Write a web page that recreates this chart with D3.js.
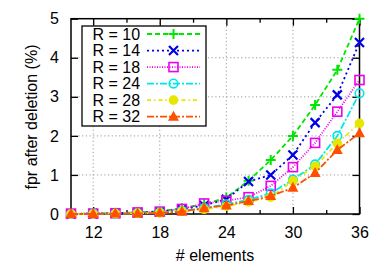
<!DOCTYPE html>
<html><head><meta charset="utf-8">
<script src="https://cdn.jsdelivr.net/npm/d3@7"></script>
<style>body{margin:0;background:#fff}text{font-family:"Liberation Sans",Arial,sans-serif}</style>
</head><body><svg id="c" width="382" height="268"></svg>
<script>
const xs = [10,12,14,16,18,20,22,24,26,28,30,32,34,36];
const r10 = [0,0.01,0.02,0.04,0.07,0.15,0.25,0.42,0.85,1.38,2.0,2.79,3.69,5.0];
const r14 = [0,0.01,0.02,0.03,0.06,0.12,0.22,0.38,0.83,1.0,1.51,2.34,3.05,4.39];
const r18 = [0.01,0.01,0.02,0.04,0.06,0.13,0.27,0.34,0.43,0.72,1.2,1.82,2.62,3.43];
const r24 = [0,0.01,0.01,0.02,0.04,0.08,0.15,0.25,0.36,0.53,0.88,1.27,2.0,3.09];
const r28 = [0,0,0.01,0.02,0.03,0.07,0.12,0.2,0.31,0.43,0.85,1.22,1.81,2.32];
const r32 = [0,0,0.01,0.01,0.03,0.06,0.15,0.22,0.33,0.46,0.67,1.05,1.64,2.07];
const seriesNames = ["R = 10","R = 14","R = 18","R = 24","R = 28","R = 32"];
const xTicks = [12,18,24,30,36];
const xMinor = [15,21,27,33];
const yTicks = [0,1,2,3,4,5];

const styles = [
  {c:"#00e600", dash:"5,3", m:"plus"},
  {c:"#0000e6", dash:"2,3", m:"x"},
  {c:"#ee00ee", dash:"1,1.5", m:"square"},
  {c:"#00e6e6", dash:"7,2,2,2", m:"circle"},
  {c:"#e6e600", dash:"4,3,1.5,3", m:"dot"},
  {c:"#ff5000", dash:"7,2,2,2", m:"tri"}
];
const data = [r10,r14,r18,r24,r28,r32];

const svg = d3.select("#c");
const L=71, R=359.5, T=18.7, B=214;
const x = d3.scaleLinear().domain([10,36]).range([L,R]);
const y = d3.scaleLinear().domain([0,5]).range([B,T]);

// grid
const g = svg.append("g");
g.selectAll(".gx").data(xTicks.filter(t=>t<36)).enter().append("line")
  .attr("x1",d=>x(d)).attr("x2",d=>x(d)).attr("y1",T).attr("y2",B)
  .attr("stroke","#999").attr("stroke-width",1).attr("stroke-dasharray","1.2,2.5");
g.selectAll(".gy").data(yTicks.filter(t=>t>0&&t<5)).enter().append("line")
  .attr("x1",L).attr("x2",R).attr("y1",d=>y(d)).attr("y2",d=>y(d))
  .attr("stroke","#999").attr("stroke-width",1).attr("stroke-dasharray","1.2,2.5");

// axes with inward ticks
const ax = svg.append("g");
const axBottom = d3.axisBottom(x).tickValues(xTicks).tickSize(-7).tickPadding(13).tickFormat(d3.format("d"));
ax.append("g").attr("transform",`translate(0,${B})`).call(axBottom);
const axTop = d3.axisTop(x).tickValues(xTicks).tickSize(-7).tickFormat("");
ax.append("g").attr("transform",`translate(0,${T})`).call(axTop);
const axBottomMinor = d3.axisBottom(x).tickValues(xMinor).tickSize(-4).tickFormat("");
ax.append("g").attr("transform",`translate(0,${B})`).call(axBottomMinor);
const axTopMinor = d3.axisTop(x).tickValues(xMinor).tickSize(-4).tickFormat("");
ax.append("g").attr("transform",`translate(0,${T})`).call(axTopMinor);
const axLeft = d3.axisLeft(y).tickValues(yTicks).tickSize(-7).tickPadding(12).tickFormat(d3.format("d"));
ax.append("g").attr("transform",`translate(${L},0)`).call(axLeft);
const axRight = d3.axisRight(y).tickValues(yTicks).tickSize(-7).tickFormat("");
ax.append("g").attr("transform",`translate(${R},0)`).call(axRight);
ax.selectAll(".domain").remove();
ax.selectAll("line").attr("stroke","#000").attr("stroke-width",1.3);
ax.selectAll("text").attr("font-size",16).attr("fill","#000").style("font-family","'Liberation Sans',Arial,sans-serif");
svg.append("rect").attr("x",L).attr("y",T).attr("width",R-L).attr("height",B-T)
  .attr("fill","none").attr("stroke","#000").attr("stroke-width",1.5);

// labels
svg.append("text").attr("x",215).attr("y",261).attr("text-anchor","middle").attr("font-size",16).text("# elements");
svg.append("text").attr("transform","translate(37,117) rotate(-90)").attr("text-anchor","middle").attr("font-size",16).text("fpr after deletion (%)");

function marker(sel, type, c){
  if(type==="plus"){
    sel.append("path").attr("d","M-5,0H5M0,-5V5").attr("stroke",c).attr("stroke-width",2).attr("fill","none");
  } else if(type==="x"){
    sel.append("path").attr("d","M-4.5,-4.5L4.5,4.5M-4.5,4.5L4.5,-4.5").attr("stroke",c).attr("stroke-width",2.2).attr("fill","none");
  } else if(type==="square"){
    sel.append("rect").attr("x",-4.5).attr("y",-4.5).attr("width",9).attr("height",9).attr("stroke",c).attr("stroke-width",1.6).attr("fill","none");
  } else if(type==="circle"){
    sel.append("circle").attr("r",4.3).attr("stroke",c).attr("stroke-width",1.6).attr("fill","none");
  } else if(type==="dot"){
    sel.append("circle").attr("r",4.8).attr("fill",c);
  } else if(type==="tri"){
    sel.append("path").attr("d","M0,-6L5.5,4L-5.5,4Z").attr("fill",c);
  }
}

const line = d3.line().x((d,i)=>x(xs[i])).y(d=>y(d));
data.forEach((vals,k)=>{
  const s = styles[k];
  const sg = svg.append("g");
  sg.append("path").datum(vals).attr("d",line).attr("fill","none")
    .attr("stroke",s.c).attr("stroke-width",1.8).attr("stroke-dasharray",s.dash);
  sg.selectAll("g.m").data(vals).enter().append("g")
    .attr("transform",(d,i)=>`translate(${x(xs[i])},${y(d)})`)
    .each(function(){ marker(d3.select(this), s.m, s.c); });
});

// legend
const lg = svg.append("g");
lg.append("rect").attr("x",82).attr("y",26).attr("width",124).attr("height",100)
  .attr("fill","#fff").attr("stroke","#000").attr("stroke-width",1.3);
const ly = d3.scaleLinear().domain([0,5]).range([34,116.7]);
seriesNames.forEach((n,k)=>{
  const s = styles[k];
  const yy = ly(k);
  lg.append("text").attr("x",92.5).attr("y",yy+5.5).attr("font-size",16).text(n);
  lg.append("line").attr("x1",147).attr("x2",200).attr("y1",yy).attr("y2",yy)
    .attr("stroke",s.c).attr("stroke-width",1.8).attr("stroke-dasharray",s.dash);
  const mg = lg.append("g").attr("transform",`translate(173.5,${yy})`);
  marker(mg, s.m, s.c);
});
</script></body></html>
